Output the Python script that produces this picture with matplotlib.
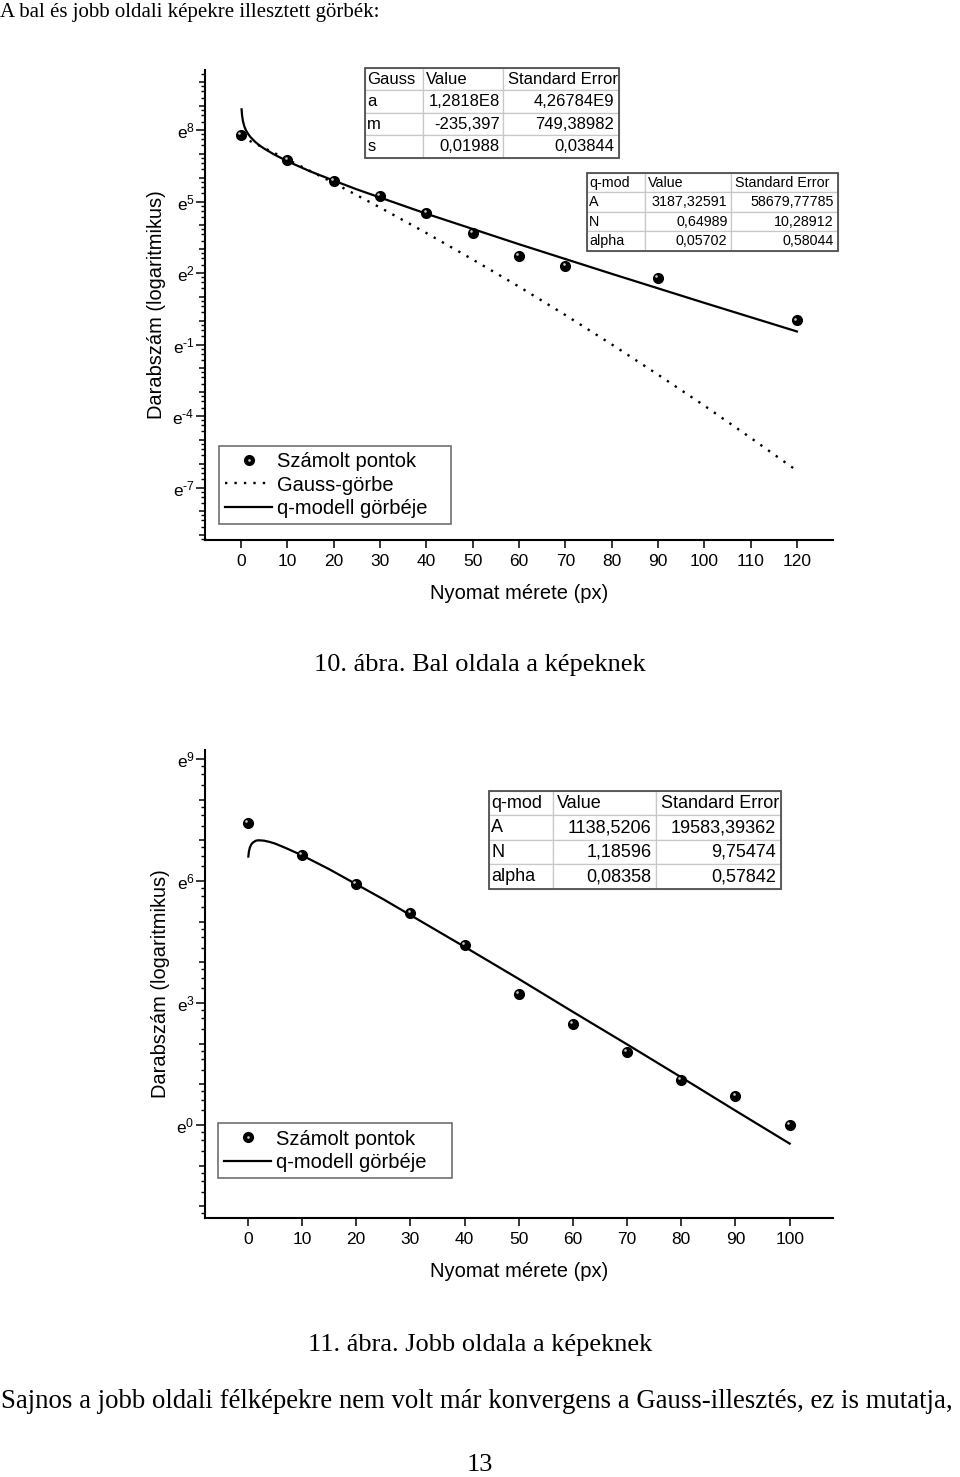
import matplotlib
matplotlib.use('Agg')
import matplotlib.pyplot as plt
import numpy as np
from matplotlib.ticker import FixedLocator, FuncFormatter, NullFormatter
from matplotlib.transforms import offset_copy
from matplotlib.lines import Line2D
from matplotlib.legend_handler import HandlerTuple
from matplotlib.patches import Rectangle

plt.rcParams['font.family'] = ['Liberation Sans', 'DejaVu Sans']
plt.rcParams['mathtext.fontset'] = 'custom'
plt.rcParams['mathtext.rm'] = 'Liberation Sans'
plt.rcParams['mathtext.it'] = 'Liberation Sans:italic'
plt.rcParams['mathtext.bf'] = 'Liberation Sans:bold'

x_left = [0, 10, 20, 30, 40, 50, 60, 70, 90, 120]
ln_left = [7.79, 6.74, 5.86, 5.25, 4.54, 3.70, 2.73, 2.29, 1.79, 0.01]

qx_left = [0.1, 0.2, 0.4, 0.7, 1, 1.5, 2, 3, 4, 5, 7, 10, 15, 20, 25, 30,
           40, 50, 60, 70, 80, 90, 100, 110, 120]
qln_left = [8.87, 8.62, 8.37, 8.15, 8.01, 7.84, 7.71, 7.51, 7.35, 7.22, 6.99,
            6.69, 6.26, 5.88, 5.51, 5.17, 4.49, 3.85, 3.21, 2.59, 1.97, 1.36,
            0.75, 0.15, -0.45]

gx_left = [0, 10, 20, 30, 40, 50, 60, 70, 80, 90, 100, 110, 120]
gln_left = [7.72, 6.77, 5.78, 4.75, 3.68, 2.57, 1.43, 0.24, -0.99, -2.26,
            -3.56, -4.91, -6.29]

gauss_tab = [['Gauss', 'Value', 'Standard Error'],
             ['a', '1,2818E8', '4,26784E9'],
             ['m', '-235,397', '749,38982'],
             ['s', '0,01988', '0,03844']]
qmod_tab_left = [['q-mod', 'Value', 'Standard Error'],
                 ['A', '3187,32591', '58679,77785'],
                 ['N', '0,64989', '10,28912'],
                 ['alpha', '0,05702', '0,58044']]

# --- right half (11. abra) ---
x_right = [0, 10, 20, 30, 40, 50, 60, 70, 80, 90, 100]
ln_right = [7.43, 6.64, 5.93, 5.21, 4.43, 3.22, 2.48, 1.80, 1.11, 0.71, 0.0]

qx_right = [0.1, 0.2, 0.4, 0.7, 1, 1.5, 2, 3, 4, 5, 7, 10, 15, 20, 25, 30,
            40, 50, 60, 70, 80, 90, 100]
qln_right = [6.60, 6.72, 6.83, 6.91, 6.95, 6.99, 7.00, 6.99, 6.96, 6.92, 6.81,
             6.63, 6.29, 5.92, 5.55, 5.16, 4.38, 3.59, 2.78, 1.98, 1.17, 0.35,
             -0.46]

qmod_tab_right = [['q-mod', 'Value', 'Standard Error'],
                  ['A', '1138,5206', '19583,39362'],
                  ['N', '1,18596', '9,75474'],
                  ['alpha', '0,08358', '0,57842']]

W, H = 960, 1477
fig = plt.figure(figsize=(W / 100, H / 100), dpi=100)


def frac(x0, y0, x1, y1):
    return [x0 / W, 1 - y1 / H, (x1 - x0) / W, (y1 - y0) / H]


def setup_axis(ax, xmax, ylo, yhi, labelled):
    ax.set_yscale('log', base=np.e)
    for s in ['top', 'right']:
        ax.spines[s].set_visible(False)
    for s in ['left', 'bottom']:
        ax.spines[s].set_linewidth(1.5)
    ax.set_xticks(np.arange(0, xmax + 1, 10))
    ax.tick_params(axis='x', length=6, width=1.1, direction='out', pad=4, labelsize=12.5)
    decades = list(range(int(np.floor(ylo)), int(np.ceil(yhi)) + 1))
    ax.yaxis.set_major_locator(FixedLocator([np.exp(k) for k in decades]))
    minor = [np.exp(k) * (1 + (np.e - 1) * j / 4) for k in decades for j in (1, 2, 3)]
    ax.yaxis.set_minor_locator(FixedLocator(minor))

    def fmt(v, pos):
        k = int(round(np.log(v)))
        if k not in labelled:
            return ''
        if k < 0:
            return 'e$^{\\text{-}%d}$' % (-k)
        return 'e$^{%d}$' % k
    ax.yaxis.set_major_formatter(FuncFormatter(fmt))
    ax.yaxis.set_minor_formatter(NullFormatter())
    ax.tick_params(axis='y', which='major', length=4.5, width=1.1, direction='out', pad=3, labelsize=12.5)
    ax.tick_params(axis='y', which='minor', length=3.0, width=1.0, direction='out')
    for t, k in zip(ax.yaxis.get_major_ticks(), decades):
        if k in labelled:
            t.tick1line.set_markersize(6.5)
    ax.set_ylim(np.exp(ylo), np.exp(yhi))
    ax.set_xlabel('Nyomat mérete (px)', fontsize=14.5, labelpad=11)
    ax.set_ylabel('Darabszám (logaritmikus)', fontsize=14.4, labelpad=4.8)


def balls(ax, x, ln):
    y = np.exp(ln)
    ax.plot(x, y, 'o', ms=7.0, color='black', zorder=4, clip_on=False)
    tr = offset_copy(ax.transData, fig=fig, x=-1.3, y=1.3, units='points')
    ax.plot(x, y, 'o', ms=1.9, color='#c8c8c8', mec='none', transform=tr, zorder=5, clip_on=False)


def add_table(ax, rows, bbox, colw, fs):
    tb = ax.table(cellText=rows, colWidths=colw, bbox=bbox, cellLoc='right')
    tb.auto_set_font_size(False)
    tb.set_fontsize(fs)
    tb.set_clip_on(False)
    tb.set_zorder(6)
    for (r, c), cell in tb.get_celld().items():
        cell.set_edgecolor('#c8c8c8')
        cell.set_linewidth(0.9)
        cell.PAD = 0.04
        if r == 0 or c == 0:
            cell._loc = 'left'
            cell.get_text().set_ha('left')
    ax.add_patch(Rectangle((bbox[0], bbox[1]), bbox[2], bbox[3], transform=ax.transAxes,
                           fill=False, ec='#505050', lw=1.3, clip_on=False, zorder=7))


def add_legend(ax, handles, labels, x0, y0, w, h):
    lg = ax.legend(handles, labels, handler_map={tuple: HandlerTuple(ndivide=1)},
                   loc='lower left', bbox_to_anchor=(x0, y0, w, h), mode='expand',
                   borderaxespad=0, fontsize=14.5, fancybox=False, framealpha=1,
                   handlelength=2.35, handletextpad=0.25, labelspacing=0.22,
                   borderpad=0.3)
    lg.get_frame().set_edgecolor('#707070')
    lg.get_frame().set_linewidth(1.2)
    return lg


ball_handle = (Line2D([], [], ls='none', marker='o', ms=7.0, color='black'),
               Line2D([], [], ls='none', marker='o', ms=1.9, color='#c8c8c8', mec='none'))
g_handle = Line2D([], [], color='black', lw=1.7, ls=(0, (1, 3)))
q_handle = Line2D([], [], color='black', lw=1.6)

# ---- chart 1 ----
ax1 = fig.add_axes(frac(205, 70, 833, 540))
ax1.set_xlim(-7.8, 127.8)
setup_axis(ax1, 120, -9.2, 10.52, [8, 5, 2, -1, -4, -7])
ax1.plot(gx_left, np.exp(gln_left), color='black', lw=1.7, ls=(0, (1, 3)), zorder=3)
ax1.plot(qx_left, np.exp(qln_left), color='black', lw=1.6, zorder=3)
balls(ax1, x_left, ln_left)
add_table(ax1, gauss_tab, [0.2548, 0.8128, 0.4045, 0.1915], [0.228, 0.315, 0.457], 12)
add_table(ax1, qmod_tab_left, [0.608, 0.615, 0.3997, 0.166], [0.231, 0.343, 0.426], 10.3)
add_legend(ax1, [ball_handle, g_handle, q_handle],
           ['Számolt pontok', 'Gauss-görbe', 'q-modell görbéje'],
           0.0223, 0.034, 0.3694, 0.168)

# ---- chart 2 ----
ax2 = fig.add_axes(frac(205, 750, 833, 1218))
ax2.set_xlim(-7.9, 108.0)
setup_axis(ax2, 100, -2.29, 9.22, [9, 6, 3, 0])
ax2.plot(qx_right, np.exp(qln_right), color='black', lw=1.6, zorder=3)
balls(ax2, x_right, ln_right)
add_table(ax2, qmod_tab_right, [0.452, 0.703, 0.465, 0.2094], [0.219, 0.353, 0.428], 13)
add_legend(ax2, [ball_handle, q_handle], ['Számolt pontok', 'q-modell görbéje'],
           0.0207, 0.0855, 0.3726, 0.115)

# ---- page text ----
serif = ['Liberation Serif', 'DejaVu Serif']
fig.text(0.0, 1 - 12 / H, 'A bal és jobb oldali képekre illesztett görbék:', family=serif,
         fontsize=15, ha='left', va='center')
fig.text(0.5, 1 - 665 / H, '10. ábra. Bal oldala a képeknek', family=serif,
         fontsize=19, ha='center', va='center')
fig.text(0.5, 1 - 1345 / H, '11. ábra. Jobb oldala a képeknek', family=serif,
         fontsize=19, ha='center', va='center')
fig.text(0.001, 1 - 1402 / H, 'Sajnos a jobb oldali félképekre nem volt már konvergens a Gauss-illesztés, ez is mutatja,',
         family=serif, fontsize=19.25, ha='left', va='center')
fig.text(0.5, 1 - 1465 / H, '13', family=serif, fontsize=19, ha='center', va='center')

fig.savefig('out.png', dpi=100)
